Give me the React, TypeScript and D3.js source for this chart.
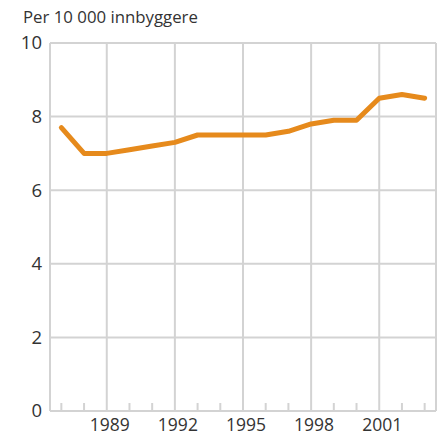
import React from "react";
import * as d3 from "d3";

const years = [1987, 1988, 1989, 1990, 1991, 1992, 1993, 1994, 1995, 1996, 1997, 1998, 1999, 2000, 2001, 2002, 2003];
const values = [7.7, 7.0, 7.0, 7.1, 7.2, 7.3, 7.5, 7.5, 7.5, 7.5, 7.6, 7.8, 7.9, 7.9, 8.5, 8.6, 8.5];
const yTicks = [0, 2, 4, 6, 8, 10];
const xLabelYears = [1989, 1992, 1995, 1998, 2001];
const yTitle = "Per 10 000 innbyggere";

export default function App() {
  const W = 441, H = 435;
  const left = 50, right = 436, top = 43, bottom = 411;
  const x = d3.scaleLinear().domain([1986.5, 2003.5]).range([left, right]);
  const y = d3.scaleLinear().domain([0, 10]).range([bottom, top]);
  const line = d3.line<number>().x((_, i) => x(years[i])).y((d) => y(d)).curve(d3.curveLinear);
  const grid = "#d3d3d3";
  const font = "'Open Sans', 'DejaVu Sans', sans-serif";
  return (
    <svg width={W} height={H} style={{ position: "absolute", left: 0, top: 0, background: "#fff" }}>
      {yTicks.map((t) => (
        <line key={"h" + t} x1={left} x2={right} y1={y(t)} y2={y(t)} stroke={grid} strokeWidth={2} />
      ))}
      <line x1={left} x2={left} y1={top} y2={bottom} stroke={grid} strokeWidth={2} />
      <line x1={right} x2={right} y1={top} y2={bottom} stroke={grid} strokeWidth={2} />
      {xLabelYears.map((yr) => (
        <line key={"v" + yr} x1={x(yr)} x2={x(yr)} y1={top} y2={bottom} stroke={grid} strokeWidth={2} />
      ))}
      {years.filter((yr) => !xLabelYears.includes(yr)).map((yr) => (
        <line key={"t" + yr} x1={x(yr)} x2={x(yr)} y1={bottom} y2={bottom - 8} stroke={grid} strokeWidth={2} />
      ))}
      {yTicks.map((t) => (
        <text key={"yl" + t} x={42} y={y(t)} dy="0.35em" textAnchor="end" fontFamily={font} fontSize={18.5} fill="#333">
          {t}
        </text>
      ))}
      {xLabelYears.map((yr) => (
        <text key={"xl" + yr} x={x(yr) + 3} y={430.5} textAnchor="middle" fontFamily={font} fontSize={17.5} fill="#333">
          {yr}
        </text>
      ))}
      <text x={23} y={23} fontFamily={font} fontSize={16.8} fill="#333">{yTitle}</text>
      <path d={line(values) || ""} fill="none" stroke="#E68A1C" strokeWidth={5} strokeLinejoin="round" strokeLinecap="round" />
    </svg>
  );
}
